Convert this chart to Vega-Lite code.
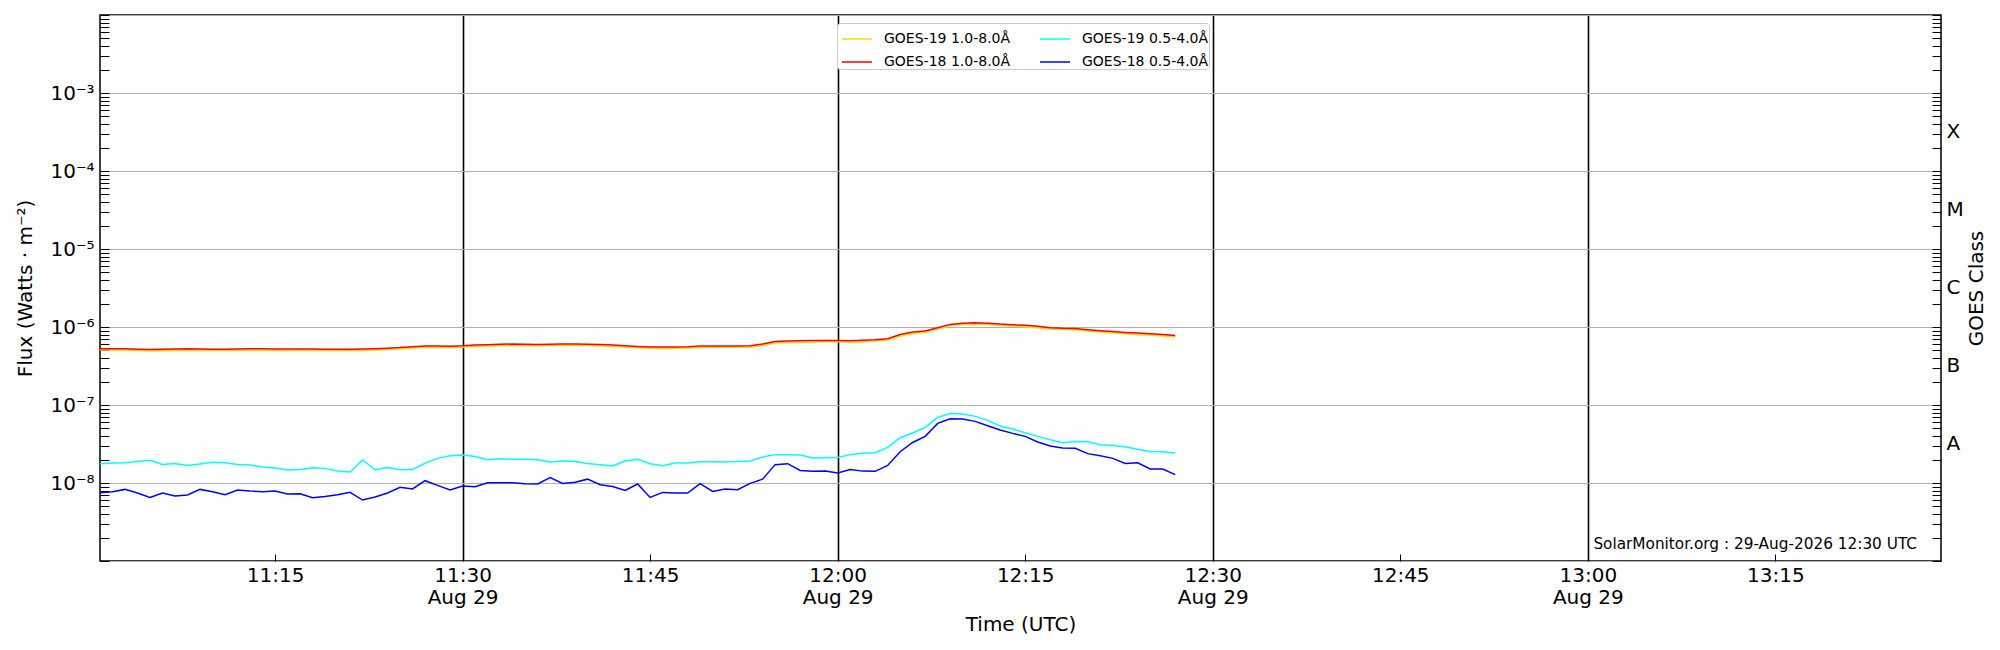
{
  "$schema": "https://vega.github.io/schema/vega-lite/v6.json",
  "width": 1841,
  "height": 546,
  "autosize": {"type": "none"},
  "padding": {"left": 100, "top": 15, "right": 59, "bottom": 89},
  "background": "white",
  "config": {
    "view": {"stroke": "black", "strokeWidth": 1.5},
    "font": "DejaVu Sans",
    "axis": {
      "domain": false,
      "labelFont": "DejaVu Sans",
      "titleFont": "DejaVu Sans",
      "labelFontSize": 20,
      "titleFontSize": 20,
      "titleFontWeight": "normal",
      "labelColor": "black",
      "titleColor": "black",
      "tickColor": "black",
      "labelOverlap": false,
      "labelBound": false,
      "labelFlush": false
    }
  },
  "datasets": {
    "g19l": [
      {"t":"2026-08-29T11:01Z","f":5.06e-7},{"t":"2026-08-29T11:02Z","f":5.06e-7},{"t":"2026-08-29T11:03Z","f":5.05e-7},{"t":"2026-08-29T11:04Z","f":5.00e-7},{"t":"2026-08-29T11:05Z","f":4.95e-7},
      {"t":"2026-08-29T11:06Z","f":4.97e-7},{"t":"2026-08-29T11:07Z","f":5.01e-7},{"t":"2026-08-29T11:08Z","f":5.04e-7},{"t":"2026-08-29T11:09Z","f":5.01e-7},{"t":"2026-08-29T11:10Z","f":4.99e-7},
      {"t":"2026-08-29T11:11Z","f":4.99e-7},{"t":"2026-08-29T11:12Z","f":5.01e-7},{"t":"2026-08-29T11:13Z","f":5.04e-7},{"t":"2026-08-29T11:14Z","f":5.04e-7},{"t":"2026-08-29T11:15Z","f":5.01e-7},
      {"t":"2026-08-29T11:16Z","f":5.01e-7},{"t":"2026-08-29T11:17Z","f":5.03e-7},{"t":"2026-08-29T11:18Z","f":5.01e-7},{"t":"2026-08-29T11:19Z","f":4.99e-7},{"t":"2026-08-29T11:20Z","f":4.97e-7},
      {"t":"2026-08-29T11:21Z","f":4.99e-7},{"t":"2026-08-29T11:22Z","f":5.01e-7},{"t":"2026-08-29T11:23Z","f":5.06e-7},{"t":"2026-08-29T11:24Z","f":5.14e-7},{"t":"2026-08-29T11:25Z","f":5.23e-7},
      {"t":"2026-08-29T11:26Z","f":5.38e-7},{"t":"2026-08-29T11:27Z","f":5.49e-7},{"t":"2026-08-29T11:28Z","f":5.47e-7},{"t":"2026-08-29T11:29Z","f":5.45e-7},{"t":"2026-08-29T11:30Z","f":5.52e-7},
      {"t":"2026-08-29T11:31Z","f":5.64e-7},{"t":"2026-08-29T11:32Z","f":5.69e-7},{"t":"2026-08-29T11:33Z","f":5.76e-7},{"t":"2026-08-29T11:34Z","f":5.81e-7},{"t":"2026-08-29T11:35Z","f":5.76e-7},
      {"t":"2026-08-29T11:36Z","f":5.74e-7},{"t":"2026-08-29T11:37Z","f":5.79e-7},{"t":"2026-08-29T11:38Z","f":5.81e-7},{"t":"2026-08-29T11:39Z","f":5.81e-7},{"t":"2026-08-29T11:40Z","f":5.79e-7},
      {"t":"2026-08-29T11:41Z","f":5.71e-7},{"t":"2026-08-29T11:42Z","f":5.64e-7},{"t":"2026-08-29T11:43Z","f":5.52e-7},{"t":"2026-08-29T11:44Z","f":5.41e-7},{"t":"2026-08-29T11:45Z","f":5.33e-7},
      {"t":"2026-08-29T11:46Z","f":5.31e-7},{"t":"2026-08-29T11:47Z","f":5.33e-7},{"t":"2026-08-29T11:48Z","f":5.38e-7},{"t":"2026-08-29T11:49Z","f":5.47e-7},{"t":"2026-08-29T11:50Z","f":5.49e-7},
      {"t":"2026-08-29T11:51Z","f":5.49e-7},{"t":"2026-08-29T11:52Z","f":5.49e-7},{"t":"2026-08-29T11:53Z","f":5.52e-7},{"t":"2026-08-29T11:54Z","f":5.81e-7},{"t":"2026-08-29T11:55Z","f":6.27e-7},
      {"t":"2026-08-29T11:56Z","f":6.34e-7},{"t":"2026-08-29T11:57Z","f":6.39e-7},{"t":"2026-08-29T11:58Z","f":6.43e-7},{"t":"2026-08-29T11:59Z","f":6.45e-7},{"t":"2026-08-29T12:00Z","f":6.46e-7},
      {"t":"2026-08-29T12:01Z","f":6.39e-7},{"t":"2026-08-29T12:02Z","f":6.48e-7},{"t":"2026-08-29T12:03Z","f":6.60e-7},{"t":"2026-08-29T12:04Z","f":6.80e-7},{"t":"2026-08-29T12:05Z","f":7.68e-7},
      {"t":"2026-08-29T12:06Z","f":8.26e-7},{"t":"2026-08-29T12:07Z","f":8.54e-7},{"t":"2026-08-29T12:08Z","f":9.41e-7},{"t":"2026-08-29T12:09Z","f":1.040e-6},{"t":"2026-08-29T12:10Z","f":1.075e-6},
      {"t":"2026-08-29T12:11Z","f":1.090e-6},{"t":"2026-08-29T12:12Z","f":1.075e-6},{"t":"2026-08-29T12:13Z","f":1.046e-6},{"t":"2026-08-29T12:14Z","f":1.027e-6},{"t":"2026-08-29T12:15Z","f":1.008e-6},
      {"t":"2026-08-29T12:16Z","f":9.79e-7},{"t":"2026-08-29T12:17Z","f":9.41e-7},{"t":"2026-08-29T12:18Z","f":9.26e-7},{"t":"2026-08-29T12:19Z","f":9.22e-7},{"t":"2026-08-29T12:20Z","f":8.88e-7},
      {"t":"2026-08-29T12:21Z","f":8.61e-7},{"t":"2026-08-29T12:22Z","f":8.40e-7},{"t":"2026-08-29T12:23Z","f":8.19e-7},{"t":"2026-08-29T12:24Z","f":8.02e-7},{"t":"2026-08-29T12:25Z","f":7.87e-7},
      {"t":"2026-08-29T12:26Z","f":7.68e-7},{"t":"2026-08-29T12:27Z","f":7.49e-7}
    ],
    "g18l": [
      {"t":"2026-08-29T11:01Z","f":5.27e-7},{"t":"2026-08-29T11:02Z","f":5.27e-7},{"t":"2026-08-29T11:03Z","f":5.27e-7},{"t":"2026-08-29T11:04Z","f":5.20e-7},{"t":"2026-08-29T11:05Z","f":5.15e-7},
      {"t":"2026-08-29T11:06Z","f":5.17e-7},{"t":"2026-08-29T11:07Z","f":5.22e-7},{"t":"2026-08-29T11:08Z","f":5.25e-7},{"t":"2026-08-29T11:09Z","f":5.22e-7},{"t":"2026-08-29T11:10Z","f":5.20e-7},
      {"t":"2026-08-29T11:11Z","f":5.20e-7},{"t":"2026-08-29T11:12Z","f":5.22e-7},{"t":"2026-08-29T11:13Z","f":5.25e-7},{"t":"2026-08-29T11:14Z","f":5.25e-7},{"t":"2026-08-29T11:15Z","f":5.22e-7},
      {"t":"2026-08-29T11:16Z","f":5.22e-7},{"t":"2026-08-29T11:17Z","f":5.24e-7},{"t":"2026-08-29T11:18Z","f":5.22e-7},{"t":"2026-08-29T11:19Z","f":5.20e-7},{"t":"2026-08-29T11:20Z","f":5.18e-7},
      {"t":"2026-08-29T11:21Z","f":5.20e-7},{"t":"2026-08-29T11:22Z","f":5.22e-7},{"t":"2026-08-29T11:23Z","f":5.27e-7},{"t":"2026-08-29T11:24Z","f":5.35e-7},{"t":"2026-08-29T11:25Z","f":5.45e-7},
      {"t":"2026-08-29T11:26Z","f":5.60e-7},{"t":"2026-08-29T11:27Z","f":5.72e-7},{"t":"2026-08-29T11:28Z","f":5.70e-7},{"t":"2026-08-29T11:29Z","f":5.68e-7},{"t":"2026-08-29T11:30Z","f":5.75e-7},
      {"t":"2026-08-29T11:31Z","f":5.88e-7},{"t":"2026-08-29T11:32Z","f":5.93e-7},{"t":"2026-08-29T11:33Z","f":6.00e-7},{"t":"2026-08-29T11:34Z","f":6.05e-7},{"t":"2026-08-29T11:35Z","f":6.00e-7},
      {"t":"2026-08-29T11:36Z","f":5.98e-7},{"t":"2026-08-29T11:37Z","f":6.03e-7},{"t":"2026-08-29T11:38Z","f":6.05e-7},{"t":"2026-08-29T11:39Z","f":6.05e-7},{"t":"2026-08-29T11:40Z","f":6.03e-7},
      {"t":"2026-08-29T11:41Z","f":5.95e-7},{"t":"2026-08-29T11:42Z","f":5.88e-7},{"t":"2026-08-29T11:43Z","f":5.75e-7},{"t":"2026-08-29T11:44Z","f":5.64e-7},{"t":"2026-08-29T11:45Z","f":5.55e-7},
      {"t":"2026-08-29T11:46Z","f":5.53e-7},{"t":"2026-08-29T11:47Z","f":5.55e-7},{"t":"2026-08-29T11:48Z","f":5.60e-7},{"t":"2026-08-29T11:49Z","f":5.70e-7},{"t":"2026-08-29T11:50Z","f":5.72e-7},
      {"t":"2026-08-29T11:51Z","f":5.72e-7},{"t":"2026-08-29T11:52Z","f":5.72e-7},{"t":"2026-08-29T11:53Z","f":5.75e-7},{"t":"2026-08-29T11:54Z","f":6.05e-7},{"t":"2026-08-29T11:55Z","f":6.53e-7},
      {"t":"2026-08-29T11:56Z","f":6.60e-7},{"t":"2026-08-29T11:57Z","f":6.66e-7},{"t":"2026-08-29T11:58Z","f":6.70e-7},{"t":"2026-08-29T11:59Z","f":6.72e-7},{"t":"2026-08-29T12:00Z","f":6.73e-7},
      {"t":"2026-08-29T12:01Z","f":6.66e-7},{"t":"2026-08-29T12:02Z","f":6.75e-7},{"t":"2026-08-29T12:03Z","f":6.87e-7},{"t":"2026-08-29T12:04Z","f":7.08e-7},{"t":"2026-08-29T12:05Z","f":8.00e-7},
      {"t":"2026-08-29T12:06Z","f":8.60e-7},{"t":"2026-08-29T12:07Z","f":8.90e-7},{"t":"2026-08-29T12:08Z","f":9.80e-7},{"t":"2026-08-29T12:09Z","f":1.080e-6},{"t":"2026-08-29T12:10Z","f":1.120e-6},
      {"t":"2026-08-29T12:11Z","f":1.135e-6},{"t":"2026-08-29T12:12Z","f":1.120e-6},{"t":"2026-08-29T12:13Z","f":1.090e-6},{"t":"2026-08-29T12:14Z","f":1.070e-6},{"t":"2026-08-29T12:15Z","f":1.050e-6},
      {"t":"2026-08-29T12:16Z","f":1.020e-6},{"t":"2026-08-29T12:17Z","f":9.80e-7},{"t":"2026-08-29T12:18Z","f":9.65e-7},{"t":"2026-08-29T12:19Z","f":9.60e-7},{"t":"2026-08-29T12:20Z","f":9.25e-7},
      {"t":"2026-08-29T12:21Z","f":8.97e-7},{"t":"2026-08-29T12:22Z","f":8.75e-7},{"t":"2026-08-29T12:23Z","f":8.53e-7},{"t":"2026-08-29T12:24Z","f":8.35e-7},{"t":"2026-08-29T12:25Z","f":8.20e-7},
      {"t":"2026-08-29T12:26Z","f":8.00e-7},{"t":"2026-08-29T12:27Z","f":7.80e-7}
    ],
    "g19s": [
      {"t":"2026-08-29T11:01Z","f":1.77e-8},{"t":"2026-08-29T11:02Z","f":1.80e-8},{"t":"2026-08-29T11:03Z","f":1.82e-8},{"t":"2026-08-29T11:04Z","f":1.88e-8},{"t":"2026-08-29T11:05Z","f":1.95e-8},
      {"t":"2026-08-29T11:06Z","f":1.73e-8},{"t":"2026-08-29T11:07Z","f":1.78e-8},{"t":"2026-08-29T11:08Z","f":1.68e-8},{"t":"2026-08-29T11:09Z","f":1.75e-8},{"t":"2026-08-29T11:10Z","f":1.84e-8},
      {"t":"2026-08-29T11:11Z","f":1.82e-8},{"t":"2026-08-29T11:12Z","f":1.73e-8},{"t":"2026-08-29T11:13Z","f":1.70e-8},{"t":"2026-08-29T11:14Z","f":1.60e-8},{"t":"2026-08-29T11:15Z","f":1.56e-8},
      {"t":"2026-08-29T11:16Z","f":1.47e-8},{"t":"2026-08-29T11:17Z","f":1.49e-8},{"t":"2026-08-29T11:18Z","f":1.57e-8},{"t":"2026-08-29T11:19Z","f":1.54e-8},{"t":"2026-08-29T11:20Z","f":1.43e-8},
      {"t":"2026-08-29T11:21Z","f":1.38e-8},{"t":"2026-08-29T11:22Z","f":1.97e-8},{"t":"2026-08-29T11:23Z","f":1.48e-8},{"t":"2026-08-29T11:24Z","f":1.58e-8},{"t":"2026-08-29T11:25Z","f":1.48e-8},
      {"t":"2026-08-29T11:26Z","f":1.49e-8},{"t":"2026-08-29T11:27Z","f":1.80e-8},{"t":"2026-08-29T11:28Z","f":2.07e-8},{"t":"2026-08-29T11:29Z","f":2.24e-8},{"t":"2026-08-29T11:30Z","f":2.28e-8},
      {"t":"2026-08-29T11:31Z","f":2.19e-8},{"t":"2026-08-29T11:32Z","f":1.99e-8},{"t":"2026-08-29T11:33Z","f":2.05e-8},{"t":"2026-08-29T11:34Z","f":2.01e-8},{"t":"2026-08-29T11:35Z","f":2.01e-8},
      {"t":"2026-08-29T11:36Z","f":1.99e-8},{"t":"2026-08-29T11:37Z","f":1.86e-8},{"t":"2026-08-29T11:38Z","f":1.91e-8},{"t":"2026-08-29T11:39Z","f":1.89e-8},{"t":"2026-08-29T11:40Z","f":1.78e-8},
      {"t":"2026-08-29T11:41Z","f":1.72e-8},{"t":"2026-08-29T11:42Z","f":1.65e-8},{"t":"2026-08-29T11:43Z","f":1.91e-8},{"t":"2026-08-29T11:44Z","f":2.01e-8},{"t":"2026-08-29T11:45Z","f":1.77e-8},
      {"t":"2026-08-29T11:46Z","f":1.67e-8},{"t":"2026-08-29T11:47Z","f":1.80e-8},{"t":"2026-08-29T11:48Z","f":1.80e-8},{"t":"2026-08-29T11:49Z","f":1.87e-8},{"t":"2026-08-29T11:50Z","f":1.87e-8},
      {"t":"2026-08-29T11:51Z","f":1.86e-8},{"t":"2026-08-29T11:52Z","f":1.89e-8},{"t":"2026-08-29T11:53Z","f":1.91e-8},{"t":"2026-08-29T11:54Z","f":2.15e-8},{"t":"2026-08-29T11:55Z","f":2.31e-8},
      {"t":"2026-08-29T11:56Z","f":2.31e-8},{"t":"2026-08-29T11:57Z","f":2.28e-8},{"t":"2026-08-29T11:58Z","f":2.09e-8},{"t":"2026-08-29T11:59Z","f":2.11e-8},{"t":"2026-08-29T12:00Z","f":2.13e-8},
      {"t":"2026-08-29T12:01Z","f":2.31e-8},{"t":"2026-08-29T12:02Z","f":2.40e-8},{"t":"2026-08-29T12:03Z","f":2.44e-8},{"t":"2026-08-29T12:04Z","f":2.86e-8},{"t":"2026-08-29T12:05Z","f":3.81e-8},
      {"t":"2026-08-29T12:06Z","f":4.38e-8},{"t":"2026-08-29T12:07Z","f":5.16e-8},{"t":"2026-08-29T12:08Z","f":6.94e-8},{"t":"2026-08-29T12:09Z","f":7.80e-8},{"t":"2026-08-29T12:10Z","f":7.67e-8},
      {"t":"2026-08-29T12:11Z","f":7.15e-8},{"t":"2026-08-29T12:12Z","f":6.35e-8},{"t":"2026-08-29T12:13Z","f":5.38e-8},{"t":"2026-08-29T12:14Z","f":4.92e-8},{"t":"2026-08-29T12:15Z","f":4.41e-8},
      {"t":"2026-08-29T12:16Z","f":3.96e-8},{"t":"2026-08-29T12:17Z","f":3.59e-8},{"t":"2026-08-29T12:18Z","f":3.29e-8},{"t":"2026-08-29T12:19Z","f":3.41e-8},{"t":"2026-08-29T12:20Z","f":3.38e-8},
      {"t":"2026-08-29T12:21Z","f":3.10e-8},{"t":"2026-08-29T12:22Z","f":3.03e-8},{"t":"2026-08-29T12:23Z","f":2.92e-8},{"t":"2026-08-29T12:24Z","f":2.70e-8},{"t":"2026-08-29T12:25Z","f":2.54e-8},
      {"t":"2026-08-29T12:26Z","f":2.52e-8},{"t":"2026-08-29T12:27Z","f":2.43e-8}
    ],
    "g18s": [
      {"t":"2026-08-29T11:01Z","f":7.51e-9},{"t":"2026-08-29T11:02Z","f":7.73e-9},{"t":"2026-08-29T11:03Z","f":8.28e-9},{"t":"2026-08-29T11:04Z","f":7.44e-9},{"t":"2026-08-29T11:05Z","f":6.53e-9},
      {"t":"2026-08-29T11:06Z","f":7.44e-9},{"t":"2026-08-29T11:07Z","f":6.81e-9},{"t":"2026-08-29T11:08Z","f":7.02e-9},{"t":"2026-08-29T11:09Z","f":8.28e-9},{"t":"2026-08-29T11:10Z","f":7.73e-9},
      {"t":"2026-08-29T11:11Z","f":7.08e-9},{"t":"2026-08-29T11:12Z","f":8.13e-9},{"t":"2026-08-29T11:13Z","f":7.89e-9},{"t":"2026-08-29T11:14Z","f":7.73e-9},{"t":"2026-08-29T11:15Z","f":7.89e-9},
      {"t":"2026-08-29T11:16Z","f":7.22e-9},{"t":"2026-08-29T11:17Z","f":7.29e-9},{"t":"2026-08-29T11:18Z","f":6.48e-9},{"t":"2026-08-29T11:19Z","f":6.73e-9},{"t":"2026-08-29T11:20Z","f":7.08e-9},
      {"t":"2026-08-29T11:21Z","f":7.58e-9},{"t":"2026-08-29T11:22Z","f":6.05e-9},{"t":"2026-08-29T11:23Z","f":6.61e-9},{"t":"2026-08-29T11:24Z","f":7.44e-9},{"t":"2026-08-29T11:25Z","f":8.79e-9},
      {"t":"2026-08-29T11:26Z","f":8.38e-9},{"t":"2026-08-29T11:27Z","f":1.07e-8},{"t":"2026-08-29T11:28Z","f":9.31e-9},{"t":"2026-08-29T11:29Z","f":8.13e-9},{"t":"2026-08-29T11:30Z","f":9.16e-9},
      {"t":"2026-08-29T11:31Z","f":8.97e-9},{"t":"2026-08-29T11:32Z","f":1.01e-8},{"t":"2026-08-29T11:33Z","f":1.01e-8},{"t":"2026-08-29T11:34Z","f":1.01e-8},{"t":"2026-08-29T11:35Z","f":9.80e-9},
      {"t":"2026-08-29T11:36Z","f":9.71e-9},{"t":"2026-08-29T11:37Z","f":1.17e-8},{"t":"2026-08-29T11:38Z","f":9.89e-9},{"t":"2026-08-29T11:39Z","f":1.02e-8},{"t":"2026-08-29T11:40Z","f":1.12e-8},
      {"t":"2026-08-29T11:41Z","f":9.51e-9},{"t":"2026-08-29T11:42Z","f":9.04e-9},{"t":"2026-08-29T11:43Z","f":8.04e-9},{"t":"2026-08-29T11:44Z","f":9.71e-9},{"t":"2026-08-29T11:45Z","f":6.53e-9},
      {"t":"2026-08-29T11:46Z","f":7.58e-9},{"t":"2026-08-29T11:47Z","f":7.44e-9},{"t":"2026-08-29T11:48Z","f":7.44e-9},{"t":"2026-08-29T11:49Z","f":9.80e-9},{"t":"2026-08-29T11:50Z","f":7.81e-9},
      {"t":"2026-08-29T11:51Z","f":8.38e-9},{"t":"2026-08-29T11:52Z","f":8.20e-9},{"t":"2026-08-29T11:53Z","f":9.89e-9},{"t":"2026-08-29T11:54Z","f":1.12e-8},{"t":"2026-08-29T11:55Z","f":1.72e-8},
      {"t":"2026-08-29T11:56Z","f":1.77e-8},{"t":"2026-08-29T11:57Z","f":1.45e-8},{"t":"2026-08-29T11:58Z","f":1.41e-8},{"t":"2026-08-29T11:59Z","f":1.42e-8},{"t":"2026-08-29T12:00Z","f":1.34e-8},
      {"t":"2026-08-29T12:01Z","f":1.49e-8},{"t":"2026-08-29T12:02Z","f":1.42e-8},{"t":"2026-08-29T12:03Z","f":1.41e-8},{"t":"2026-08-29T12:04Z","f":1.68e-8},{"t":"2026-08-29T12:05Z","f":2.52e-8},
      {"t":"2026-08-29T12:06Z","f":3.31e-8},{"t":"2026-08-29T12:07Z","f":3.96e-8},{"t":"2026-08-29T12:08Z","f":5.81e-8},{"t":"2026-08-29T12:09Z","f":6.67e-8},{"t":"2026-08-29T12:10Z","f":6.61e-8},
      {"t":"2026-08-29T12:11Z","f":6.17e-8},{"t":"2026-08-29T12:12Z","f":5.43e-8},{"t":"2026-08-29T12:13Z","f":4.78e-8},{"t":"2026-08-29T12:14Z","f":4.33e-8},{"t":"2026-08-29T12:15Z","f":3.96e-8},
      {"t":"2026-08-29T12:16Z","f":3.35e-8},{"t":"2026-08-29T12:17Z","f":2.98e-8},{"t":"2026-08-29T12:18Z","f":2.81e-8},{"t":"2026-08-29T12:19Z","f":2.78e-8},{"t":"2026-08-29T12:20Z","f":2.38e-8},
      {"t":"2026-08-29T12:21Z","f":2.24e-8},{"t":"2026-08-29T12:22Z","f":2.07e-8},{"t":"2026-08-29T12:23Z","f":1.78e-8},{"t":"2026-08-29T12:24Z","f":1.82e-8},{"t":"2026-08-29T12:25Z","f":1.51e-8},
      {"t":"2026-08-29T12:26Z","f":1.51e-8},{"t":"2026-08-29T12:27Z","f":1.28e-8}
    ],
    "stamp": [{"label": "SolarMonitor.org : 29-Aug-2026 12:30 UTC"}]
  },
  "resolve": {"axis": {"x": "independent", "y": "independent"}},
  "layer": [
    {
      "data": {"name": "g19l"},
      "mark": {"type": "line", "strokeWidth": 1.5, "clip": true},
      "encoding": {
        "x": {
          "field": "t",
          "type": "temporal",
          "scale": {
            "type": "utc",
            "nice": false,
            "domain": [
              {"year": 2026, "month": 8, "date": 29, "hours": 11, "minutes": 1, "utc": true},
              {"year": 2026, "month": 8, "date": 29, "hours": 13, "minutes": 28, "seconds": 15, "utc": true}
            ]
          },
          "axis": {
            "orient": "bottom",
            "values": [
              {"year": 2026, "month": 8, "date": 29, "hours": 11, "minutes": 15, "utc": true},
              {"year": 2026, "month": 8, "date": 29, "hours": 11, "minutes": 30, "utc": true},
              {"year": 2026, "month": 8, "date": 29, "hours": 11, "minutes": 45, "utc": true},
              {"year": 2026, "month": 8, "date": 29, "hours": 12, "minutes": 0, "utc": true},
              {"year": 2026, "month": 8, "date": 29, "hours": 12, "minutes": 15, "utc": true},
              {"year": 2026, "month": 8, "date": 29, "hours": 12, "minutes": 30, "utc": true},
              {"year": 2026, "month": 8, "date": 29, "hours": 12, "minutes": 45, "utc": true},
              {"year": 2026, "month": 8, "date": 29, "hours": 13, "minutes": 0, "utc": true},
              {"year": 2026, "month": 8, "date": 29, "hours": 13, "minutes": 15, "utc": true}
            ],
            "labelExpr": "utcminutes(datum.value) % 30 == 0 ? [utcFormat(datum.value, '%H:%M'), utcFormat(datum.value, '%b %d')] : utcFormat(datum.value, '%H:%M')",
            "labelBaseline": "top",
            "labelLineHeight": 22,
            "labelPadding": 11,
            "tickSize": -7,
            "tickWidth": 1,
            "grid": true,
            "gridColor": "black",
            "gridWidth": 1.6,
            "gridOpacity": {"condition": {"test": "utcminutes(datum.value) % 30 == 0", "value": 1}, "value": 0},
            "title": "Time (UTC)",
            "titleX": 920.5,
            "titleY": 63,
            "titleBaseline": "middle"
          }
        },
        "y": {
          "field": "f",
          "type": "quantitative",
          "scale": {"type": "log", "domain": [1e-9, 1e-2], "nice": false},
          "axis": {
            "orient": "left",
            "values": [1e-9,2e-9,3e-9,4e-9,5e-9,6e-9,7e-9,8e-9,9e-9,1e-8,2e-8,3e-8,4e-8,5e-8,6e-8,7e-8,8e-8,9e-8,1e-7,2e-7,3e-7,4e-7,5e-7,6e-7,7e-7,8e-7,9e-7,1e-6,2e-6,3e-6,4e-6,5e-6,6e-6,7e-6,8e-6,9e-6,1e-5,2e-5,3e-5,4e-5,5e-5,6e-5,7e-5,8e-5,9e-5,1e-4,2e-4,3e-4,4e-4,5e-4,6e-4,7e-4,8e-4,9e-4,1e-3,2e-3,3e-3,4e-3,5e-3,6e-3,7e-3,8e-3,9e-3,1e-2],
            "labelExpr": "abs(log(datum.value)/LN10 - round(log(datum.value)/LN10)) > 0.01 || datum.value < 5e-9 || datum.value > 5e-3 ? '' : '10⁻' + ['⁰','¹','²','³','⁴','⁵','⁶','⁷','⁸','⁹'][-round(log(datum.value)/LN10)]",
            "labelPadding": 15,
            "tickSize": -9,
            "tickWidth": 1,
            "grid": true,
            "gridColor": "#b0b0b0",
            "gridWidth": 1,
            "gridOpacity": {"condition": {"test": "abs(log(datum.value)/LN10 - round(log(datum.value)/LN10)) < 0.01", "value": 1}, "value": 0},
            "title": "Flux (Watts · m⁻²)",
            "titleX": -75,
            "titleY": 273,
            "titleAngle": 270,
            "titleBaseline": "middle"
          }
        },
        "color": {
          "datum": "GOES-19 1.0-8.0Å",
          "scale": {
            "domain": ["GOES-19 1.0-8.0Å", "GOES-18 1.0-8.0Å", "GOES-19 0.5-4.0Å", "GOES-18 0.5-4.0Å"],
            "range": ["#ffd700", "#ff0000", "#00ffff", "#0000ff"]
          },
          "legend": {
            "title": null,
            "orient": "none",
            "legendX": 737,
            "legendY": 8,
            "columns": 2,
            "symbolType": "stroke",
            "symbolSize": 900,
            "symbolStrokeWidth": 1.5,
            "symbolOffset": 4,
            "labelFont": "DejaVu Sans",
            "labelFontSize": 14,
            "labelColor": "black",
            "labelOffset": 11,
            "columnPadding": 24,
            "rowPadding": -6,
            "padding": 0,
            "fillColor": "white",
            "strokeColor": "#cccccc",
            "cornerRadius": 3
          }
        }
      }
    },
    {
      "data": {"name": "g18l"},
      "mark": {"type": "line", "strokeWidth": 1.5, "clip": true},
      "encoding": {
        "x": {"field": "t", "type": "temporal", "axis": null},
        "y": {"field": "f", "type": "quantitative", "axis": null},
        "color": {"datum": "GOES-18 1.0-8.0Å"}
      }
    },
    {
      "data": {"name": "g19s"},
      "mark": {"type": "line", "strokeWidth": 1.5, "clip": true},
      "encoding": {
        "x": {"field": "t", "type": "temporal", "axis": null},
        "y": {"field": "f", "type": "quantitative", "axis": null},
        "color": {"datum": "GOES-19 0.5-4.0Å"}
      }
    },
    {
      "data": {"name": "g18s"},
      "mark": {"type": "line", "strokeWidth": 1.5, "clip": true},
      "encoding": {
        "x": {"field": "t", "type": "temporal", "axis": null},
        "y": {"field": "f", "type": "quantitative", "axis": null},
        "color": {"datum": "GOES-18 0.5-4.0Å"}
      }
    },
    {
      "data": {"name": "stamp"},
      "mark": {"type": "text", "align": "right", "baseline": "alphabetic", "fontSize": 15.3, "font": "DejaVu Sans", "color": "black"},
      "encoding": {
        "x": {"datum": {"year": 2026, "month": 8, "date": 29, "hours": 13, "minutes": 26, "seconds": 20, "utc": true}, "type": "temporal", "axis": null},
        "y": {
          "datum": 1.44e-9,
          "type": "quantitative",
          "axis": {
            "orient": "right",
            "values": [1e-9,2e-9,3e-9,4e-9,5e-9,6e-9,7e-9,8e-9,9e-9,1e-8,2e-8,3e-8,4e-8,5e-8,6e-8,7e-8,8e-8,9e-8,1e-7,2e-7,3e-7,4e-7,5e-7,6e-7,7e-7,8e-7,9e-7,1e-6,2e-6,3e-6,4e-6,5e-6,6e-6,7e-6,8e-6,9e-6,1e-5,2e-5,3e-5,4e-5,5e-5,6e-5,7e-5,8e-5,9e-5,1e-4,2e-4,3e-4,4e-4,5e-4,6e-4,7e-4,8e-4,9e-4,1e-3,2e-3,3e-3,4e-3,5e-3,6e-3,7e-3,8e-3,9e-3,1e-2,3.1623e-8,3.1623e-7,3.1623e-6,3.1623e-5,3.1623e-4],
            "labelExpr": "abs(log(datum.value)/LN10 - floor(log(datum.value)/LN10) - 0.5) < 0.01 ? ['A','B','C','M','X'][floor(log(datum.value)/LN10) + 8] : ''",
            "labelAlign": "left",
            "labelBaseline": "middle",
            "labelPadding": 14,
            "tickSize": -9,
            "tickWidth": 1,
            "tickOpacity": {"condition": {"test": "abs(log(datum.value)/LN10 - floor(log(datum.value)/LN10) - 0.5) < 0.01", "value": 0}, "value": 1},
            "grid": false,
            "title": "GOES Class",
            "titleX": 35,
            "titleY": 273,
            "titleAngle": 270,
            "titleBaseline": "middle"
          }
        },
        "text": {"field": "label"}
      }
    }
  ]
}
